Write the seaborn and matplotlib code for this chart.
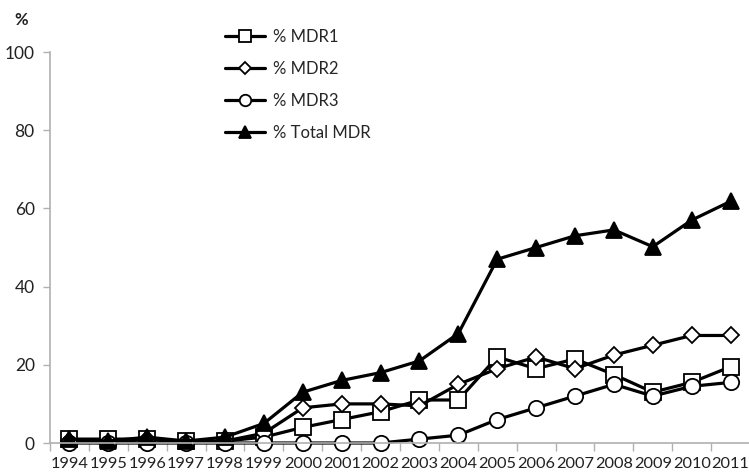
import pandas as pd
import numpy as np
import seaborn as sns
import matplotlib.pyplot as plt

# Data
years = ["1994", "1995", "1996", "1997", "1998", "1999", "2000", "2001", "2002",
         "2003", "2004", "2005", "2006", "2007", "2008", "2009", "2010", "2011"]
mdr1 = [1, 1, 1, 0.5, 0.5, 1.5, 4, 6, 8, 11, 11, 22, 19, 21.5, 17.5, 13, 15.5, 19.5]
mdr2 = [0.5, 0, 1, 0, 0.5, 2.5, 9, 10, 10, 9.5, 15, 19, 22, 19, 22.5, 25, 27.5, 27.5]
mdr3 = [0, 0, 0, 0, 0, 0, 0, 0, 0, 1, 2, 6, 9, 12, 15, 12, 14.5, 15.5]
total_mdr = [1, 0.5, 1.5, 0.5, 1.5, 5, 13, 16, 18, 21, 28, 47, 50, 53, 54.5, 50.2, 57, 61.8]
yticks = [0, 20, 40, 60, 80, 100]

series = [
    ("% MDR1", mdr1, "s", "white", 11),
    ("% MDR2", mdr2, "D", "white", 8.5),
    ("% MDR3", mdr3, "o", "white", 11),
    ("% Total MDR", total_mdr, "^", "black", 11),
]

sns.set_style("white")
plt.rcParams["font.family"] = ["Lato", "DejaVu Sans"]

fig = plt.figure(figsize=(7.49, 4.75), dpi=100)
ax = fig.add_axes([50 / 749, 32 / 475, 700 / 749, 391 / 475])

x = np.arange(len(years))
for name, vals, mk, fc, ms in series:
    sns.lineplot(x=x, y=vals, ax=ax, color="black", linewidth=2.3,
                 marker=mk, markersize=ms, markerfacecolor=fc,
                 markeredgecolor="black", markeredgewidth=1.3,
                 label=name, clip_on=False)

ax.set_xlim(-0.5, len(years) - 0.5)
ax.set_ylim(0, 100)
ax.set_yticks(yticks)
ax.set_xticks(x)
ax.set_xticklabels(years)
ax.set_xticks(np.arange(-0.5, len(years)), minor=True)

for s in ["top", "right"]:
    ax.spines[s].set_visible(False)
for s in ["left", "bottom"]:
    ax.spines[s].set_color("#b0b0b0")
    ax.spines[s].set_linewidth(1.2)

ax.tick_params(axis="x", which="major", length=0, pad=10, labelsize=11.8,
               labelcolor="#222222")
ax.tick_params(axis="x", which="minor", length=6, width=1, color="#b0b0b0",
               direction="out", bottom=True)
ax.tick_params(axis="y", length=5, width=1, color="#b0b0b0", labelsize=12.5,
               labelcolor="#222222", left=True, pad=6)

fig.text(14 / 749, 1 - 20 / 475, "%", fontsize=12, fontweight="bold",
         color="#222222", va="center")

leg = ax.legend(loc="upper left", bbox_to_anchor=(210 / 749, 1 - 14 / 475),
                bbox_transform=fig.transFigure, frameon=False, fontsize=12,
                labelspacing=0.95, handlelength=2.4, handletextpad=0.5,
                markerscale=0.75)

plt.savefig("out.png", dpi=100)
